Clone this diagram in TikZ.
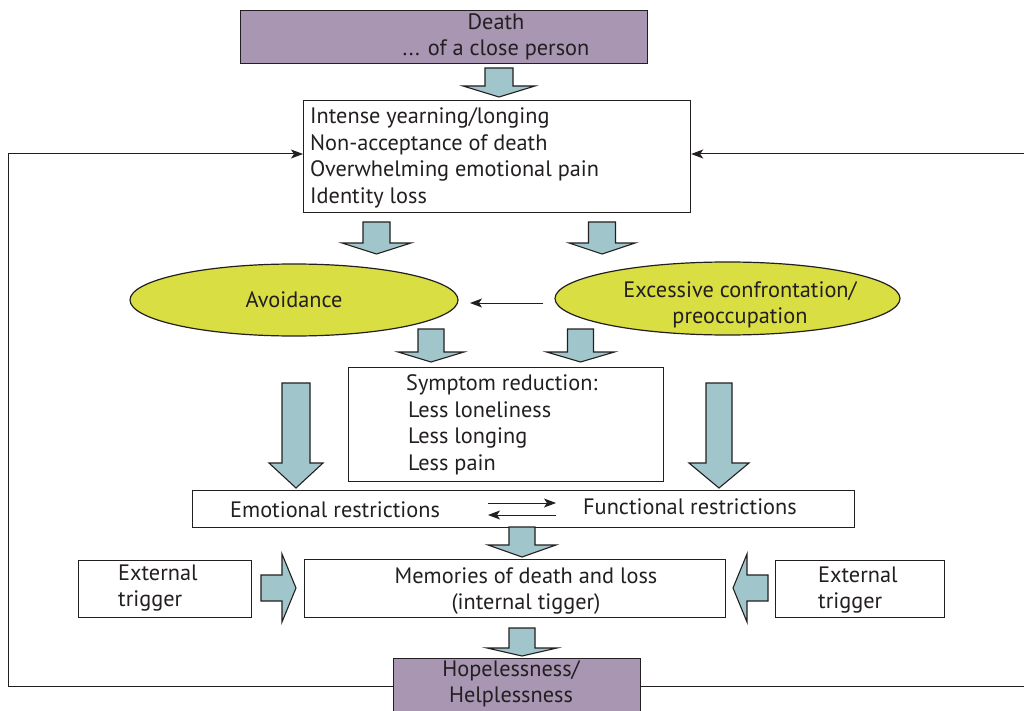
\documentclass[tikz,border=0pt]{standalone}
\usepackage{fontspec}
\setmainfont{PT Sans}
\usetikzlibrary{shapes.geometric,arrows.meta}
\definecolor{boxpurple}{RGB}{168,150,178}
\definecolor{arrowteal}{RGB}{160,198,203}
\definecolor{ovalyellow}{RGB}{217,222,66}
\definecolor{inkgray}{RGB}{35,31,32}

% downward block arrow: centre x, top, head start, tip, shaft half width, head half width
\newcommand\blockdown[6]{%
  \filldraw[blockarrow] (#1-#5,#2) -- (#1+#5,#2) -- (#1+#5,#3) -- (#1+#6,#3)
    -- (#1,#4) -- (#1-#6,#3) -- (#1-#5,#3) -- cycle;}
% horizontal block arrow: centre y, tail x, head start x, tip x, shaft half height, head half height
\newcommand\blockside[6]{%
  \filldraw[blockarrow] (#2,#1-#5) -- (#3,#1-#5) -- (#3,#1-#6) -- (#4,#1)
    -- (#3,#1+#6) -- (#3,#1+#5) -- (#2,#1+#5) -- cycle;}

\begin{document}
\begin{tikzpicture}[x=1pt,y=-1pt,
  every node/.style={font=\fontsize{22.3}{26.5}\selectfont, text=inkgray},
  plainbox/.style={draw=inkgray, line width=1.2pt, fill=white, rectangle, inner sep=0pt},
  purplebox/.style={plainbox, fill=boxpurple},
  oval/.style={draw=inkgray, line width=1.2pt, fill=ovalyellow, ellipse, inner sep=0pt},
  blockarrow/.style={draw=inkgray, line width=1.1pt, fill=arrowteal, line join=miter},
  thinarrow/.style={draw=inkgray, line width=1pt, -{Stealth[length=12pt,width=9pt,inset=3pt]}},
  label/.style={inner sep=0pt, align=left}]
\useasboundingbox (0,0) rectangle (1024,711);
\clip (0,0) rectangle (1024,711);

% top: the loss
\node[purplebox, minimum width=407pt, minimum height=53pt, anchor=north west] (death) at (240,10) {};
\node[label, align=center] (deathtxt) at (496,37) {Death\\... of a close person};

% core grief reactions
\node[plainbox, minimum width=387pt, minimum height=112pt, anchor=north west] (grief) at (303,100) {};
\node[label, anchor=west] (grieftxt) at (310,158) {Intense yearning/longing\\Non-acceptance of death\\Overwhelming emotional pain\\Identity loss};

% coping styles
\node[oval, minimum width=328pt, minimum height=72pt] (avoid) at (294,300) {Avoidance};
\node[oval, minimum width=345pt, minimum height=73pt] (excess) at (727.5,298.5) {};
\node[label, align=center] (excesstxt) at (740,305) {Excessive confrontation/\\preoccupation};

% symptom reduction
\node[plainbox, minimum width=315pt, minimum height=114pt, anchor=north west] (symptom) at (348,367) {};
\node[label, anchor=west] (symptomtxt) at (406,425) {Symptom reduction:\\\hspace*{2pt}Less loneliness\\\hspace*{2pt}Less longing\\\hspace*{2pt}Less pain};

% restrictions
\node[plainbox, minimum width=662pt, minimum height=37pt, anchor=north west] (restrict) at (192,490) {};
\node[label, anchor=west] (emo) at (230,510) {Emotional restrictions};
\node[label, anchor=west] (func) at (583,507) {Functional restrictions};
\coordinate (swapL) at (488,503);
\coordinate (swapR) at (556,503);
\coordinate (swapL2) at (488,515);
\coordinate (swapR2) at (556,515);
\draw[thinarrow] (swapL) -- (swapR);
\draw[thinarrow] (swapR2) -- (swapL2);

% triggers
\node[plainbox, minimum width=421pt, minimum height=58pt, anchor=north west] (memory) at (304,559) {};
\node[label, align=center] (memorytxt) at (526,591) {Memories of death and loss\\(internal tigger)};
\node[plainbox, minimum width=173pt, minimum height=57pt, anchor=north west] (extL) at (78,560) {};
\node[label, anchor=west] (extLtxt) at (118,588) {External\\trigger};
\node[plainbox, minimum width=169pt, minimum height=57pt, anchor=north west] (extR) at (775,560) {};
\node[label, anchor=west] (extRtxt) at (818,590) {External\\trigger};

% outcome
\node[purplebox, minimum width=247pt, minimum height=56pt, anchor=north west] (hope) at (393,658) {};
\node[label, align=center] (hopetxt) at (511,684) {Hopelessness/\\Helplessness};

% feedback loop back to the grief reactions
\draw[thinarrow] (hope.west) -| (8,154) -- (grief.west |- 0,154);
\draw[thinarrow] (hope.east) -| (1024,154) -- (grief.east |- 0,154);

% coping: confrontation turns into avoidance
\coordinate (ctrL) at (470,303);
\coordinate (ctrR) at (543,303);
\draw[thinarrow] (ctrR) -- (ctrL);

% block arrows
\blockdown{499}{68}{86}{97}{14}{36}
\blockdown{376.5}{222}{243}{254}{13.5}{34.5}
\blockdown{602}{222}{243}{254}{13.5}{33}
\blockdown{431}{329}{352}{362}{13}{33}
\blockdown{580.5}{329}{352}{362}{13}{34}
\blockdown{296}{383}{463}{488}{14}{27}
\blockdown{719}{383}{463}{488}{13}{30}
\blockdown{522}{527}{545}{557}{13}{34}
\blockdown{522}{628}{648}{656}{13}{35}
\blockside{588}{261}{282}{296}{13}{34}
\blockside{588}{768}{747}{733}{13}{34}
\end{tikzpicture}
\end{document}
